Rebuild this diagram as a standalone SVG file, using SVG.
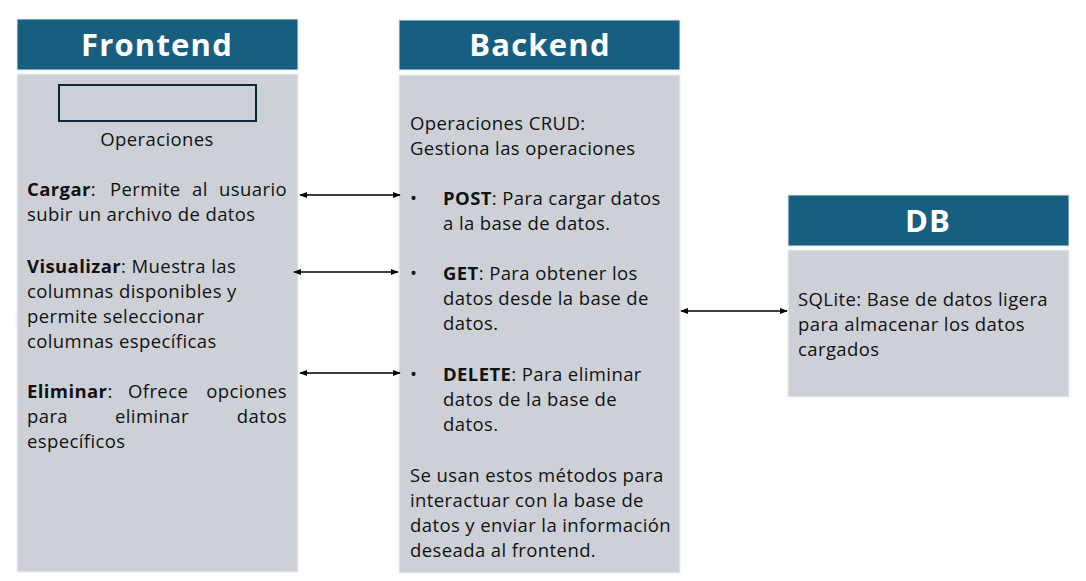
<svg xmlns="http://www.w3.org/2000/svg" width="1086" height="581" viewBox="0 0 1086 581">
<style>
.hdr{fill:#175f80;stroke:#e6eaee;stroke-width:1}
.body{fill:#cdd1d7;stroke:#eef0f2;stroke-width:1}
.ht{font-family:"Open Sans","Liberation Sans",sans-serif;font-weight:700;font-size:31px;letter-spacing:1.2px;fill:#ffffff;text-anchor:middle}
.t{font-family:"Open Sans","Liberation Sans",sans-serif;font-size:18.5px;letter-spacing:0.4px;fill:#111111}
.b{font-weight:700}
.conn{stroke:#000;stroke-width:1.6;fill:none;marker-start:url(#ah);marker-end:url(#ah)}
</style>
<defs>
<marker id="ah" viewBox="0 0 10 10" refX="9" refY="5" markerWidth="5" markerHeight="5" orient="auto-start-reverse" markerUnits="strokeWidth">
<path d="M0,1 L10,5 L0,9 z" fill="#000"/>
</marker>
</defs>
<rect width="1086" height="581" fill="#ffffff"/>
<g id="frontend">
<rect class="hdr" x="17" y="19" width="281" height="51"/>
<text class="ht" x="157" y="56">Frontend</text>
<rect class="body" x="17" y="74" width="281" height="498"/>
<rect x="59" y="85" width="197" height="36" fill="none" stroke="#0e2838" stroke-width="2"/>
<text class="t" x="157" y="146" text-anchor="middle">Operaciones</text>
<text class="t" x="27" y="196"><tspan class="b">Cargar</tspan>:</text>
<text class="t" x="110" y="196">Permite</text>
<text class="t" x="192" y="196">al</text>
<text class="t" x="287" y="196" text-anchor="end">usuario</text>
<text class="t" x="27" y="221">subir un archivo de datos</text>
<text class="t" x="27" y="273"><tspan class="b">Visualizar</tspan>: Muestra las</text>
<text class="t" x="27" y="298">columnas disponibles y</text>
<text class="t" x="27" y="323">permite seleccionar</text>
<text class="t" x="27" y="348">columnas específicas</text>
<text class="t" x="27" y="398"><tspan class="b">Eliminar</tspan>:</text>
<text class="t" x="128" y="398">Ofrece</text>
<text class="t" x="287" y="398" text-anchor="end">opciones</text>
<text class="t" x="27" y="423">para</text>
<text class="t" x="115" y="423">eliminar</text>
<text class="t" x="287" y="423" text-anchor="end">datos</text>
<text class="t" x="27" y="448">específicos</text>
</g>
<g id="backend">
<rect class="hdr" x="399" y="20" width="281" height="50"/>
<text class="ht" x="540" y="56">Backend</text>
<rect class="body" x="399" y="75" width="281" height="498"/>
<text class="t" x="410" y="130">Operaciones CRUD:</text>
<text class="t" x="410" y="155">Gestiona las operaciones</text>
<text class="t" x="410" y="205">•</text>
<text class="t" x="443" y="205"><tspan class="b">POST</tspan>: Para cargar datos</text>
<text class="t" x="443" y="230">a la base de datos.</text>
<text class="t" x="410" y="280">•</text>
<text class="t" x="443" y="280"><tspan class="b">GET</tspan>: Para obtener los</text>
<text class="t" x="443" y="305">datos desde la base de</text>
<text class="t" x="443" y="330">datos.</text>
<text class="t" x="410" y="381">•</text>
<text class="t" x="443" y="381"><tspan class="b">DELETE</tspan>: Para eliminar</text>
<text class="t" x="443" y="406">datos de la base de</text>
<text class="t" x="443" y="431">datos.</text>
<text class="t" x="410" y="482">Se usan estos métodos para</text>
<text class="t" x="410" y="507">interactuar con la base de</text>
<text class="t" x="410" y="532">datos y enviar la información</text>
<text class="t" x="410" y="557">deseada al frontend.</text>
</g>
<g id="db">
<rect class="hdr" x="788" y="195" width="281" height="51"/>
<text class="ht" x="928" y="232">DB</text>
<rect class="body" x="788" y="250" width="281" height="147"/>
<text class="t" x="798" y="306">SQLite: Base de datos ligera</text>
<text class="t" x="798" y="331">para almacenar los datos</text>
<text class="t" x="798" y="356">cargados</text>
</g>
<g id="connectors">
<line class="conn" x1="300" y1="195" x2="400" y2="195"/>
<line class="conn" x1="294" y1="272" x2="398" y2="272"/>
<line class="conn" x1="300" y1="373" x2="400" y2="373"/>
<line class="conn" x1="681" y1="311" x2="787" y2="311"/>
</g>
</svg>
